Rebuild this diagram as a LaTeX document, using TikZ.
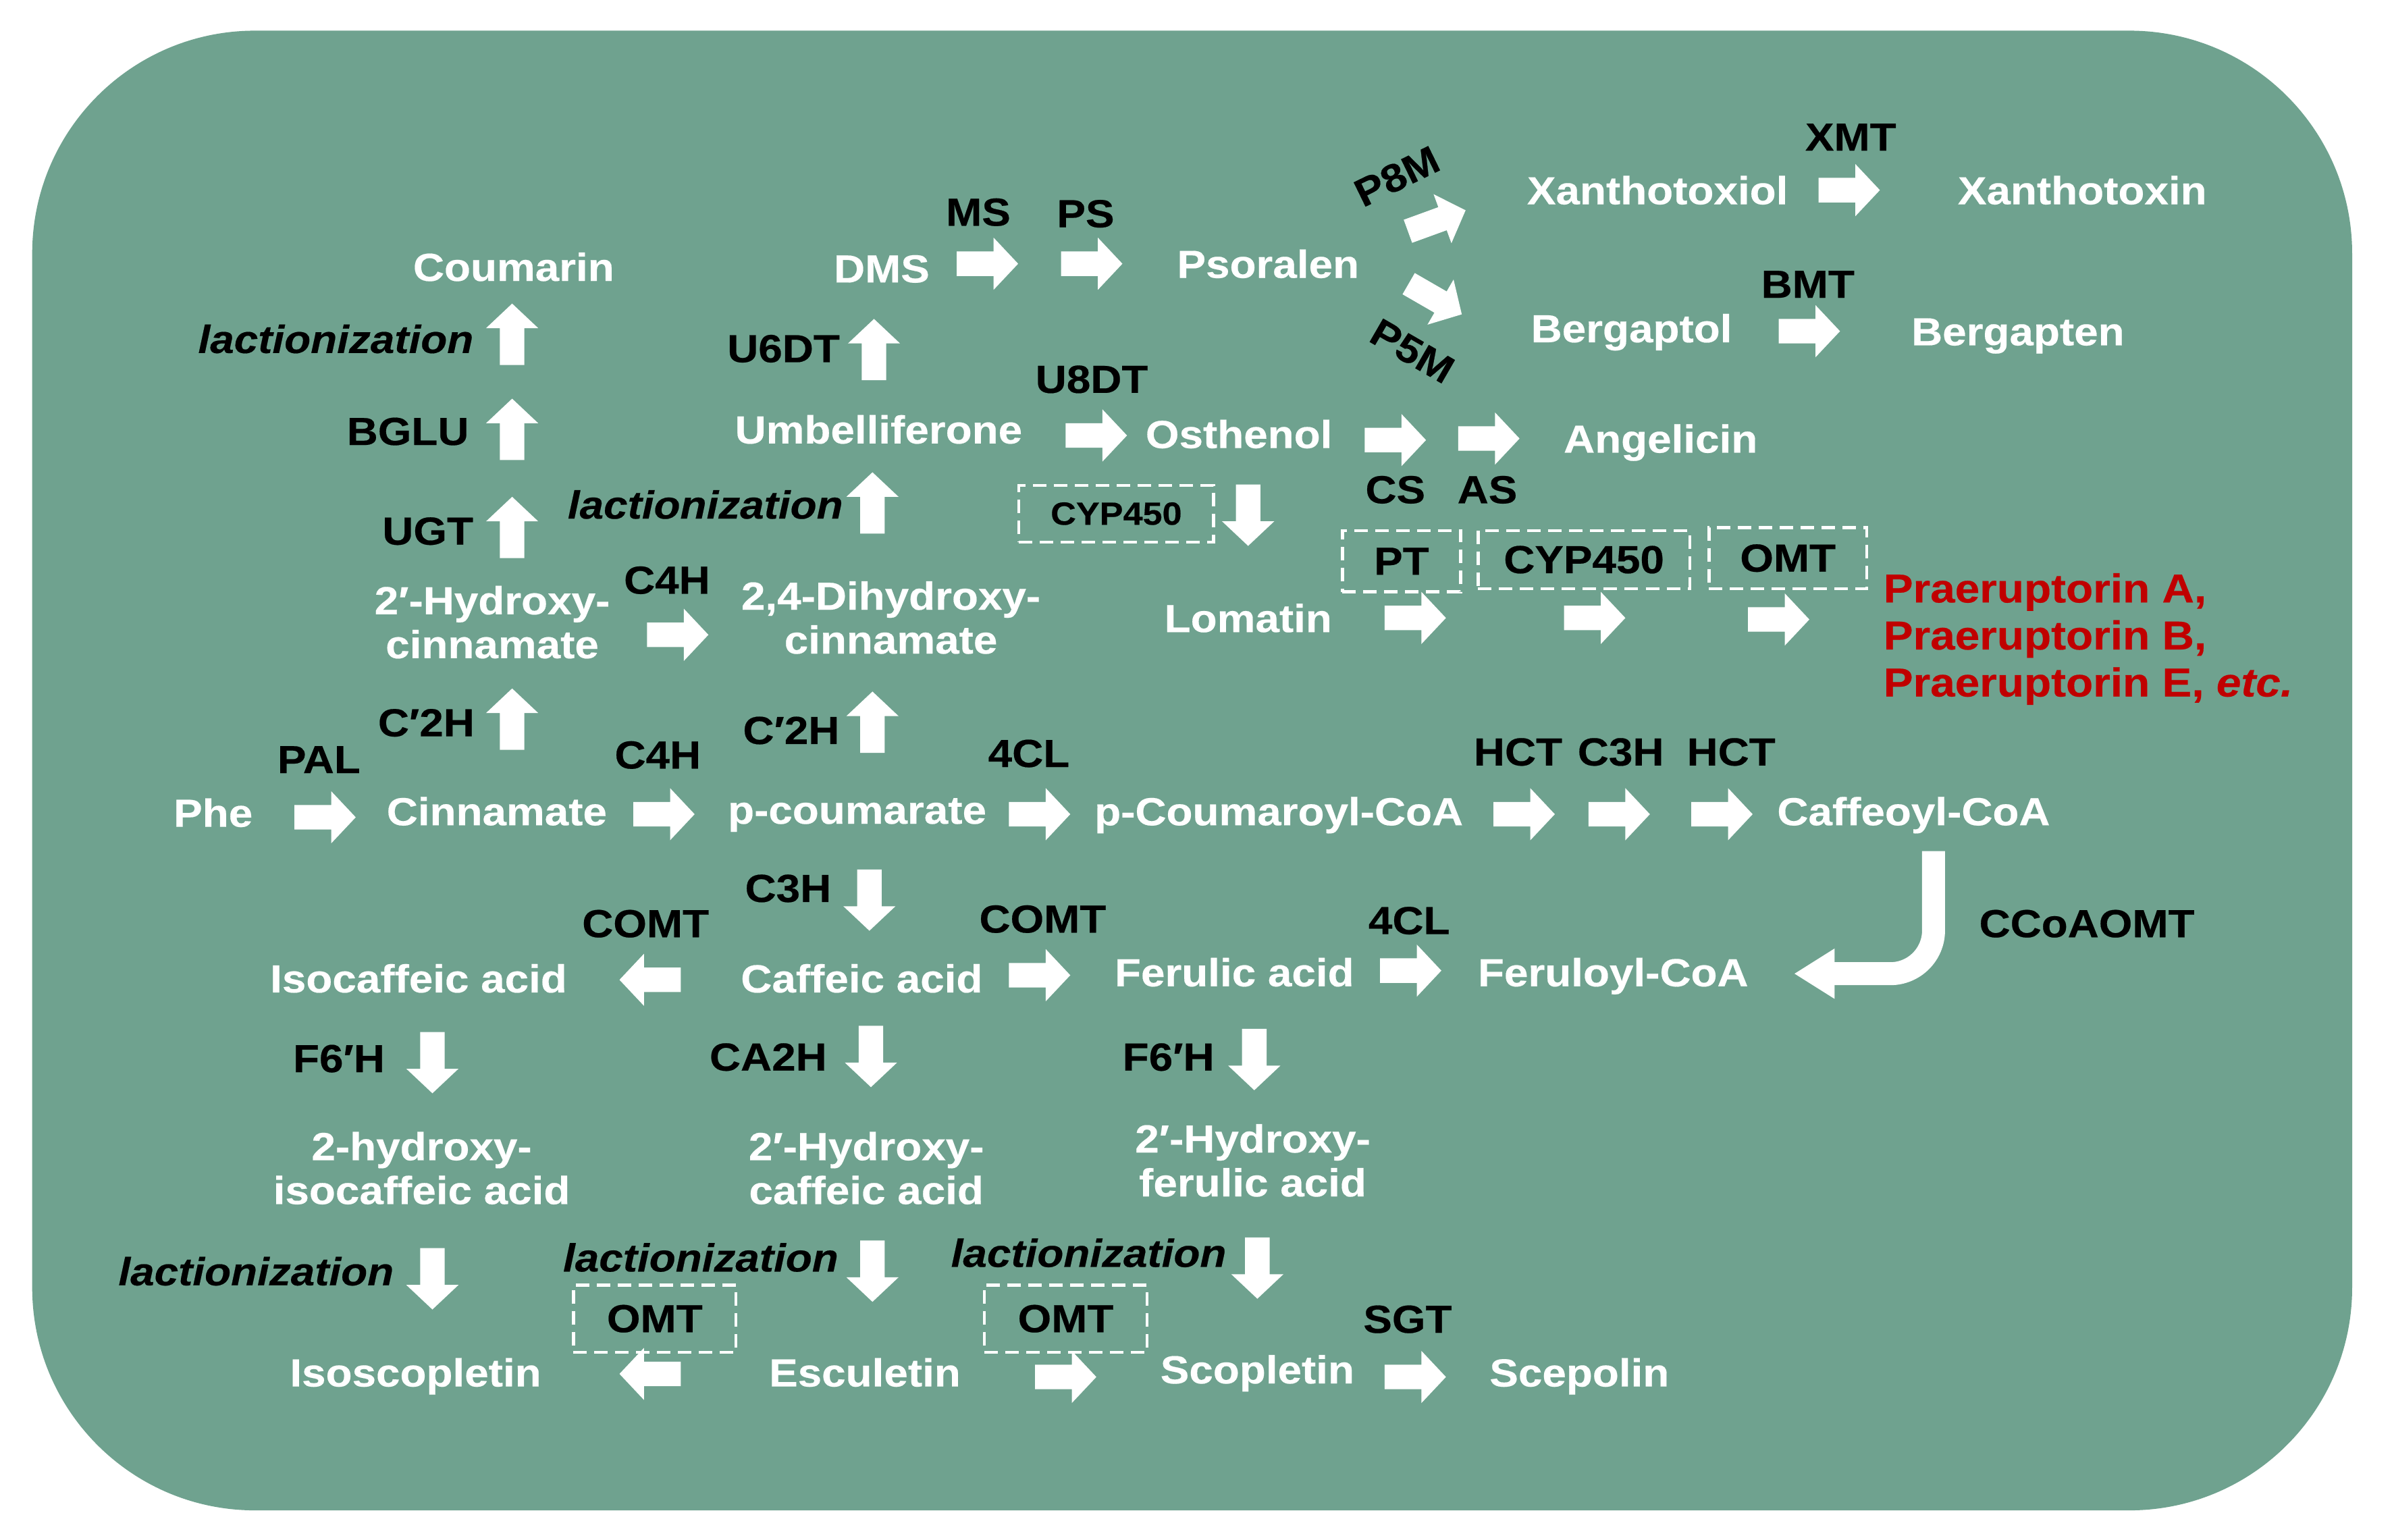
\documentclass[tikz,border=0pt]{standalone}
\usepackage{fontspec}
\setmainfont{Liberation Sans}[FakeStretch=1.1, BoldFeatures={FakeBold=0.35}, BoldItalicFeatures={FakeBold=0.35}]
\usetikzlibrary{arrows.meta}
\definecolor{bgc}{HTML}{6FA28F}
\definecolor{redt}{HTML}{C00000}
\begin{document}
\begin{tikzpicture}[x=0.02271cm,y=-0.02271cm,
  fnt/.style={font=\bfseries\fontsize{16.5}{18.5}\selectfont},
  chem/.style={fnt, text=white, inner sep=0pt, anchor=base, yshift=-0.209cm},
  chemtwo/.style={fnt, text=white, inner sep=0pt, align=center, anchor=north, yshift=0.209cm},
  enz/.style={fnt, text=black, inner sep=0pt, anchor=base, yshift=-0.209cm},
  lac/.style={enz, font=\bfseries\itshape\fontsize{16.5}{18.5}\selectfont},
  rot/.style={fnt, text=black, inner sep=0pt, anchor=center},
  dbox/.style={draw=white, dash pattern=on 0.2cm off 0.11cm, line width=1.3pt, inner sep=0pt, fnt, text=black},
  smallf/.style={font=\bfseries\fontsize{13.5}{15}\selectfont},
  barrow/.pic={\fill[white] (-20,-8) -- (4,-8) -- (4,-17) -- (20,0) -- (4,17) -- (4,8) -- (-20,8) -- cycle;},
  curvearrow/.style={draw=white, line width=0.34cm, rounded corners=0.64cm, -{Triangle[length=0.6cm,width=0.7cm]}}
]
\useasboundingbox (0,0) rectangle (1560,1004);
\fill[white] (0,0) rectangle (1560,1004);
\fill[bgc, rounded corners=3.3cm] (21,20) rectangle (1534,985);

% ---------- compounds ----------
\node[chem] (cou) at (335,174) {Coumarin};
\node[chem] (dms) at (575,175) {DMS};
\node[chem] (pso) at (827,172) {Psoralen};
\node[chem] (xol) at (1081,124) {Xanthotoxiol};
\node[chem] (xin) at (1358,124) {Xanthotoxin};
\node[chem] (bol) at (1064,214) {Bergaptol};
\node[chem] (ben) at (1316,216) {Bergapten};
\node[chem] (umb) at (573,280) {Umbelliferone};
\node[chem] (ost) at (808,283) {Osthenol};
\node[chem] (ang) at (1083,286) {Angelicin};
\node[chem] (lom) at (814,403) {Lomatin};
\node[chem] (phe) at (139,530) {Phe};
\node[chem] (cin) at (324,529) {Cinnamate};
\node[chem] (pcm) at (559,528) {p-coumarate};
\node[chem] (pcc) at (834,529) {p-Coumaroyl-CoA};
\node[chem] (caf) at (1248,529) {Caffeoyl-CoA};
\node[chem] (ica) at (273,638) {Isocaffeic acid};
\node[chem] (caa) at (562,638) {Caffeic acid};
\node[chem] (fer) at (805,634) {Ferulic acid};
\node[chem] (frc) at (1052,634) {Feruloyl-CoA};
\node[chem] (isc) at (271,895) {Isoscopletin};
\node[chem] (esc) at (564,895) {Esculetin};
\node[chem] (sco) at (820,893) {Scopletin};
\node[chem] (sce) at (1030,895) {Scepolin};
\node[chemtwo] (hci) at (321,391) {2′-Hydroxy-\\cinnamate};
\node[chemtwo] (dhc) at (581,388) {2,4-Dihydroxy-\\cinnamate};
\node[chemtwo] (hic) at (275,747) {2-hydroxy-\\isocaffeic acid};
\node[chemtwo] (hca) at (565,747) {2′-Hydroxy-\\caffeic acid};
\node[chemtwo] (hfa) at (817,742) {2′-Hydroxy-\\ferulic acid};
\node[fnt, text=redt, inner sep=0pt, align=left, anchor=north west, yshift=0.215cm,
      font=\bfseries\fontsize{17}{19.8}\selectfont] (pra) at (1228,383)
      {Praeruptorin A,\\Praeruptorin B,\\Praeruptorin E, \textit{etc.}};

% ---------- enzymes ----------
\node[lac] (l1) at (219,221) {lactionization};
\node[enz] (bglu) at (266,281) {BGLU};
\node[enz] (ugt) at (279,346) {UGT};
\node[lac] (l2) at (460,329) {lactionization};
\node[enz] (u6dt) at (511,227) {U6DT};
\node[enz] (ms) at (638,138) {MS};
\node[enz] (ps) at (708,139) {PS};
\node[enz] (xmt) at (1207,89) {XMT};
\node[enz] (bmt) at (1179,185) {BMT};
\node[enz] (u8dt) at (712,247) {U8DT};
\node[enz] (cs) at (910,319) {CS};
\node[enz] (as) at (970,319) {AS};
\node[enz] (c4ha) at (435,378) {C4H};
\node[enz] (c2ha) at (278,471) {C′2H};
\node[enz] (c2hb) at (516,476) {C′2H};
\node[enz] (pal) at (208,495) {PAL};
\node[enz] (c4hb) at (429,492) {C4H};
\node[enz] (cla) at (671,491) {4CL};
\node[enz] (hcta) at (990,490) {HCT};
\node[enz] (c3ha) at (1057,490) {C3H};
\node[enz] (hctb) at (1129,490) {HCT};
\node[enz] (c3hb) at (514,579) {C3H};
\node[enz] (comta) at (421,602) {COMT};
\node[enz] (comtb) at (680,599) {COMT};
\node[enz] (clb) at (919,600) {4CL};
\node[enz] (ccoa) at (1361,602) {CCoAOMT};
\node[enz] (f6a) at (221,690) {F6′H};
\node[enz] (ca2h) at (501,689) {CA2H};
\node[enz] (f6b) at (762,689) {F6′H};
\node[lac] (l3) at (167,829) {lactionization};
\node[lac] (l4) at (457,820) {lactionization};
\node[lac] (l5) at (710,817) {lactionization};
\node[enz] (sgt) at (918,860) {SGT};
\node[rot, rotate=26] (p8m) at (911,115) {P8M};
\node[rot, rotate=-30] (p5m) at (921,229) {P5M};

% ---------- dashed boxes ----------
\node[dbox, smallf, minimum width=127*0.02271cm, minimum height=37*0.02271cm] (bx1) at (728,335) {CYP450};
\node[dbox, minimum width=77*0.02271cm, minimum height=40*0.02271cm] (bx2) at (914,366) {PT};
\node[dbox, minimum width=138*0.02271cm, minimum height=38*0.02271cm] (bx3) at (1033,365) {CYP450};
\node[dbox, minimum width=103*0.02271cm, minimum height=40*0.02271cm] (bx4) at (1166,364) {OMT};
\node[dbox, minimum width=106*0.02271cm, minimum height=44*0.02271cm] (bx5) at (427,860) {OMT};
\node[dbox, minimum width=106*0.02271cm, minimum height=44*0.02271cm] (bx6) at (695,860) {OMT};

% ---------- block arrows ----------
% up
\pic[rotate=90] (au1) at (334,218) {barrow};
\pic[rotate=90] (au2) at (334,280) {barrow};
\pic[rotate=90] (au3) at (334,344) {barrow};
\pic[rotate=90] (au4) at (334,469) {barrow};
\pic[rotate=90] (au5) at (570,228) {barrow};
\pic[rotate=90] (au6) at (569,328) {barrow};
\pic[rotate=90] (au7) at (569,471) {barrow};
% right
\pic (ar1) at (644,172) {barrow};
\pic (ar2) at (712,172) {barrow};
\pic (ar3) at (1206,124) {barrow};
\pic (ar4) at (1180,216) {barrow};
\pic (ar5) at (715,284) {barrow};
\pic (ar6) at (910,287) {barrow};
\pic (ar7) at (971,286) {barrow};
\pic (ar8) at (923,403) {barrow};
\pic (ar9) at (1040,403) {barrow};
\pic (ar10) at (1160,404) {barrow};
\pic (ar11) at (442,414) {barrow};
\pic (ar12) at (212,533) {barrow};
\pic (ar13) at (433,531) {barrow};
\pic (ar14) at (678,531) {barrow};
\pic (ar15) at (994,531) {barrow};
\pic (ar16) at (1056,531) {barrow};
\pic (ar17) at (1123,531) {barrow};
\pic (ar18) at (678,636) {barrow};
\pic (ar19) at (920,633) {barrow};
\pic (ar20) at (695,898) {barrow};
\pic (ar21) at (923,898) {barrow};
% left
\pic[rotate=180] (al1) at (424,639) {barrow};
\pic[rotate=180] (al2) at (424,896) {barrow};
% down
\pic[rotate=-90] (ad1) at (814,336) {barrow};
\pic[rotate=-90] (ad2) at (567,587) {barrow};
\pic[rotate=-90] (ad3) at (568,689) {barrow};
\pic[rotate=-90] (ad4) at (282,693) {barrow};
\pic[rotate=-90] (ad5) at (818,691) {barrow};
\pic[rotate=-90] (ad6) at (282,834) {barrow};
\pic[rotate=-90] (ad7) at (569,829) {barrow};
\pic[rotate=-90] (ad8) at (820,827) {barrow};
% diagonal
\pic[rotate=20] (ag1) at (937,144) {barrow};
\pic[rotate=-30] (ag2) at (936,195) {barrow};

% ---------- curved arrow (CCoAOMT) ----------
\coordinate (cvs) at (1261,555);
\coordinate (cve) at (1170,635);
\draw[curvearrow] (cvs) |- (cve);
\end{tikzpicture}
\end{document}
